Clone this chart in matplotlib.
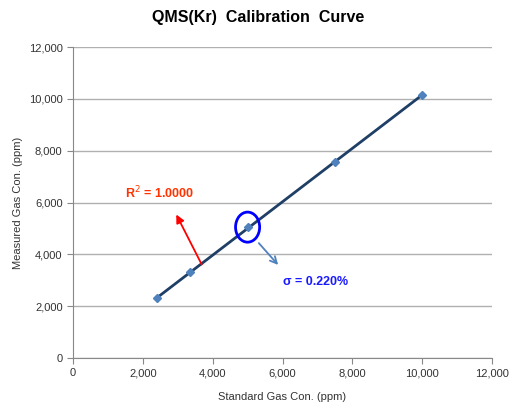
import matplotlib
matplotlib.use('Agg')
import matplotlib.pyplot as plt
from matplotlib.patches import Ellipse

plt.rcParams['font.family'] = ['Liberation Sans', 'DejaVu Sans']

# calibration data
standard_ppm = [2400, 3350, 5000, 7500, 10000]
measured_ppm = [2320, 3320, 5050, 7570, 10150]
tick_values = [0, 2000, 4000, 6000, 8000, 10000, 12000]
tick_labels = ['0', '2,000', '4,000', '6,000', '8,000', '10,000', '12,000']

fig = plt.figure(figsize=(5.16, 4.09), dpi=100)
ax = fig.add_axes([0.1415, 0.1247, 0.812, 0.7603])

ax.set_xlim(0, 12000)
ax.set_ylim(0, 12000)
ax.set_xticks(tick_values)
ax.set_xticklabels(tick_labels, fontsize=8, color='#333333')
ax.set_yticks(tick_values)
ax.set_yticklabels(tick_labels, fontsize=8, color='#333333')
ax.tick_params(direction='out', length=4, color='#888888')

ax.grid(axis='y', color='#b0b0b0', linewidth=1)
ax.set_axisbelow(True)
for s in ['top', 'right']:
    ax.spines[s].set_visible(False)
for s in ['left', 'bottom']:
    ax.spines[s].set_color('#888888')

# trendline + markers
ax.plot([standard_ppm[0], standard_ppm[-1]], [measured_ppm[0], measured_ppm[-1]],
        color='#1f3f66', linewidth=2, zorder=3)
ax.plot(standard_ppm, measured_ppm, linestyle='none', marker='D', markersize=4.5,
        color='#4f81bd', zorder=4)

# annotations
ax.add_patch(Ellipse((5000, 5050), 690, 1160, fill=False, edgecolor='#0000ff', linewidth=2, zorder=5))
ax.annotate('', xy=(2921, 5633), xytext=(3723, 3511),
            arrowprops=dict(arrowstyle='-|>', color='#ff0000', linewidth=1.3, mutation_scale=12))
ax.annotate('', xy=(5928, 3511), xytext=(5269, 4514),
            arrowprops=dict(arrowstyle='->', color='#4f81bd', linewidth=1.3, mutation_scale=12))
ax.text(1480, 6366, 'R$^2$ = 1.0000', color='#ff3300', fontsize=9, fontweight='bold', va='center')
ax.text(6014, 2932, 'σ = 0.220%', color='#1a1aff', fontsize=9, fontweight='bold', va='center')

fig.text(0.5, 0.958, 'QMS(Kr)  Calibration  Curve', ha='center', va='center', fontsize=11.5, fontweight='bold')
ax.set_xlabel('Standard Gas Con. (ppm)', fontsize=8, color='#333333', labelpad=10)
ax.set_ylabel('Measured Gas Con. (ppm)', fontsize=8, color='#333333', labelpad=4)

fig.savefig('out.png', dpi=100)
